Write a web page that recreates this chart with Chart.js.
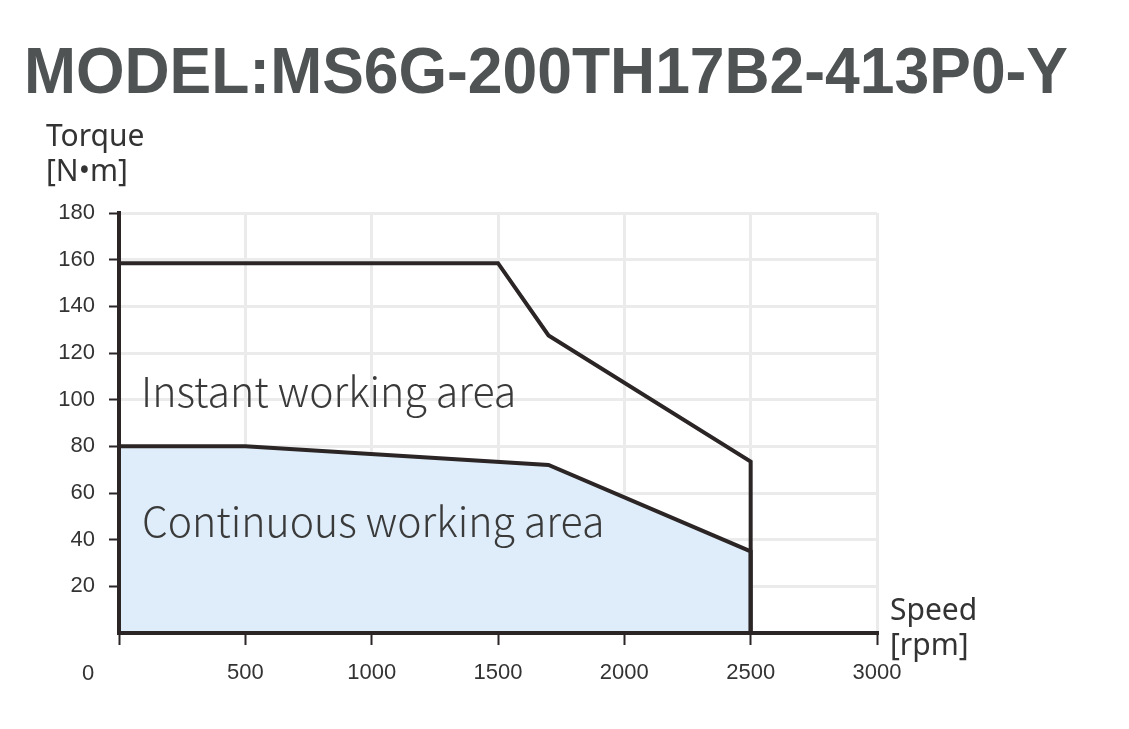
<!DOCTYPE html>
<html>
<head>
<meta charset="utf-8">
<script src="https://cdn.jsdelivr.net/npm/chart.js@4"></script>
<style>
  html, body { margin: 0; padding: 0; background: #fff; }
  #wrap { width: 1129px; height: 729px; }
</style>
</head>
<body>
<div id="wrap"><canvas id="torqueChart" width="1129" height="729"></canvas></div>
<script>
const title = "MODEL:MS6G-200TH17B2-413P0-Y";
const xTicks = [0, 500, 1000, 1500, 2000, 2500, 3000];
const yTicks = [20, 40, 60, 80, 100, 120, 140, 160, 180];

const instantSpeed = [0, 1500, 1700, 2500, 2500];
const instantTorque = [158.5, 158.5, 127.5, 73.5, 0];

// closed outline of the continuous area
const contSpeed = [0, 0, 500, 1700, 2500, 2500, 0];
const contTorque = [0, 80, 80, 72, 35, 0, 0];

const dark = "#2b2526";
const grey = "#ebebeb";

const toPoints = (xs, ys) => xs.map((x, i) => ({ x, y: ys[i] }));

const textPlugin = {
  id: "texts",
  afterDraw(chart) {
    const ctx = chart.ctx;
    ctx.save();
    // title, squeezed to the width it has in the picture
    ctx.fillStyle = "#4f5354";
    ctx.font = "bold 64px 'Liberation Sans', Arial, sans-serif";
    ctx.textBaseline = "alphabetic";
    ctx.textAlign = "left";
    const w = ctx.measureText(title).width;
    ctx.translate(24, 93);
    ctx.scale(1044 / w, 1);
    ctx.fillText(title, 0, 0);
    ctx.restore();

    ctx.save();
    ctx.fillStyle = "#333";
    ctx.font = "30px 'Noto Sans', sans-serif";
    ctx.textBaseline = "alphabetic";
    ctx.fillText("Torque", 46, 146);
    ctx.fillText("[N•m]", 46, 181);
    ctx.fillText("Speed", 890, 620);
    ctx.fillText("[rpm]", 890, 655);

    ctx.font = "22px 'Liberation Sans', Arial, sans-serif";
    ctx.textAlign = "center";
    ctx.textBaseline = "middle";
    ctx.fillText("0", 88, 674);

    ctx.font = "300 41px 'Noto Sans CJK SC', 'Noto Sans', sans-serif";
    ctx.textAlign = "left";
    ctx.textBaseline = "alphabetic";
    ctx.fillStyle = "#3a3a3a";
    ctx.fillText("Instant working area", 141, 407);
    ctx.fillText("Continuous working area", 142, 537);
    ctx.restore();
  }
};

new Chart(document.getElementById("torqueChart"), {
  type: "line",
  data: {
    datasets: [
      {
        label: "Instant",
        data: toPoints(instantSpeed, instantTorque),
        borderColor: dark,
        borderWidth: 4,
        pointRadius: 0,
        fill: false,
        tension: 0,
        clip: 4
      },
      {
        label: "Continuous",
        data: toPoints(contSpeed, contTorque),
        borderColor: dark,
        borderWidth: 4,
        pointRadius: 0,
        fill: "shape",
        backgroundColor: "#deedf9",
        tension: 0,
        clip: 4
      }
    ]
  },
  options: {
    responsive: false,
    animation: false,
    layout: { padding: { left: 0, top: 213, right: 252, bottom: 0 } },
    plugins: {
      legend: { display: false },
      tooltip: { enabled: false }
    },
    scales: {
      x: {
        type: "linear",
        min: 0,
        max: 3000,
        afterFit: s => { s.height = 96; },
        afterBuildTicks: s => { s.ticks = xTicks.map(v => ({ value: v })); },
        grid: { color: grey, lineWidth: 3, tickColor: dark, tickWidth: 2, tickLength: 12 },
        border: { color: dark, width: 4 },
        ticks: {
          color: "#333",
          padding: 15,
          font: { family: "'Liberation Sans', Arial, sans-serif", size: 22 },
          callback: v => (v === 0 ? "" : v)
        }
      },
      y: {
        min: 0,
        max: 180,
        afterFit: s => { s.width = 119; },
        afterBuildTicks: s => { s.ticks = yTicks.map(v => ({ value: v })); },
        grid: { color: grey, lineWidth: 3, tickColor: dark, tickWidth: 2, tickLength: 10 },
        border: { color: dark, width: 4 },
        ticks: {
          color: "#333",
          padding: 14,
          font: { family: "'Liberation Sans', Arial, sans-serif", size: 22 }
        }
      }
    }
  },
  plugins: [textPlugin]
});
</script>
</body>
</html>
